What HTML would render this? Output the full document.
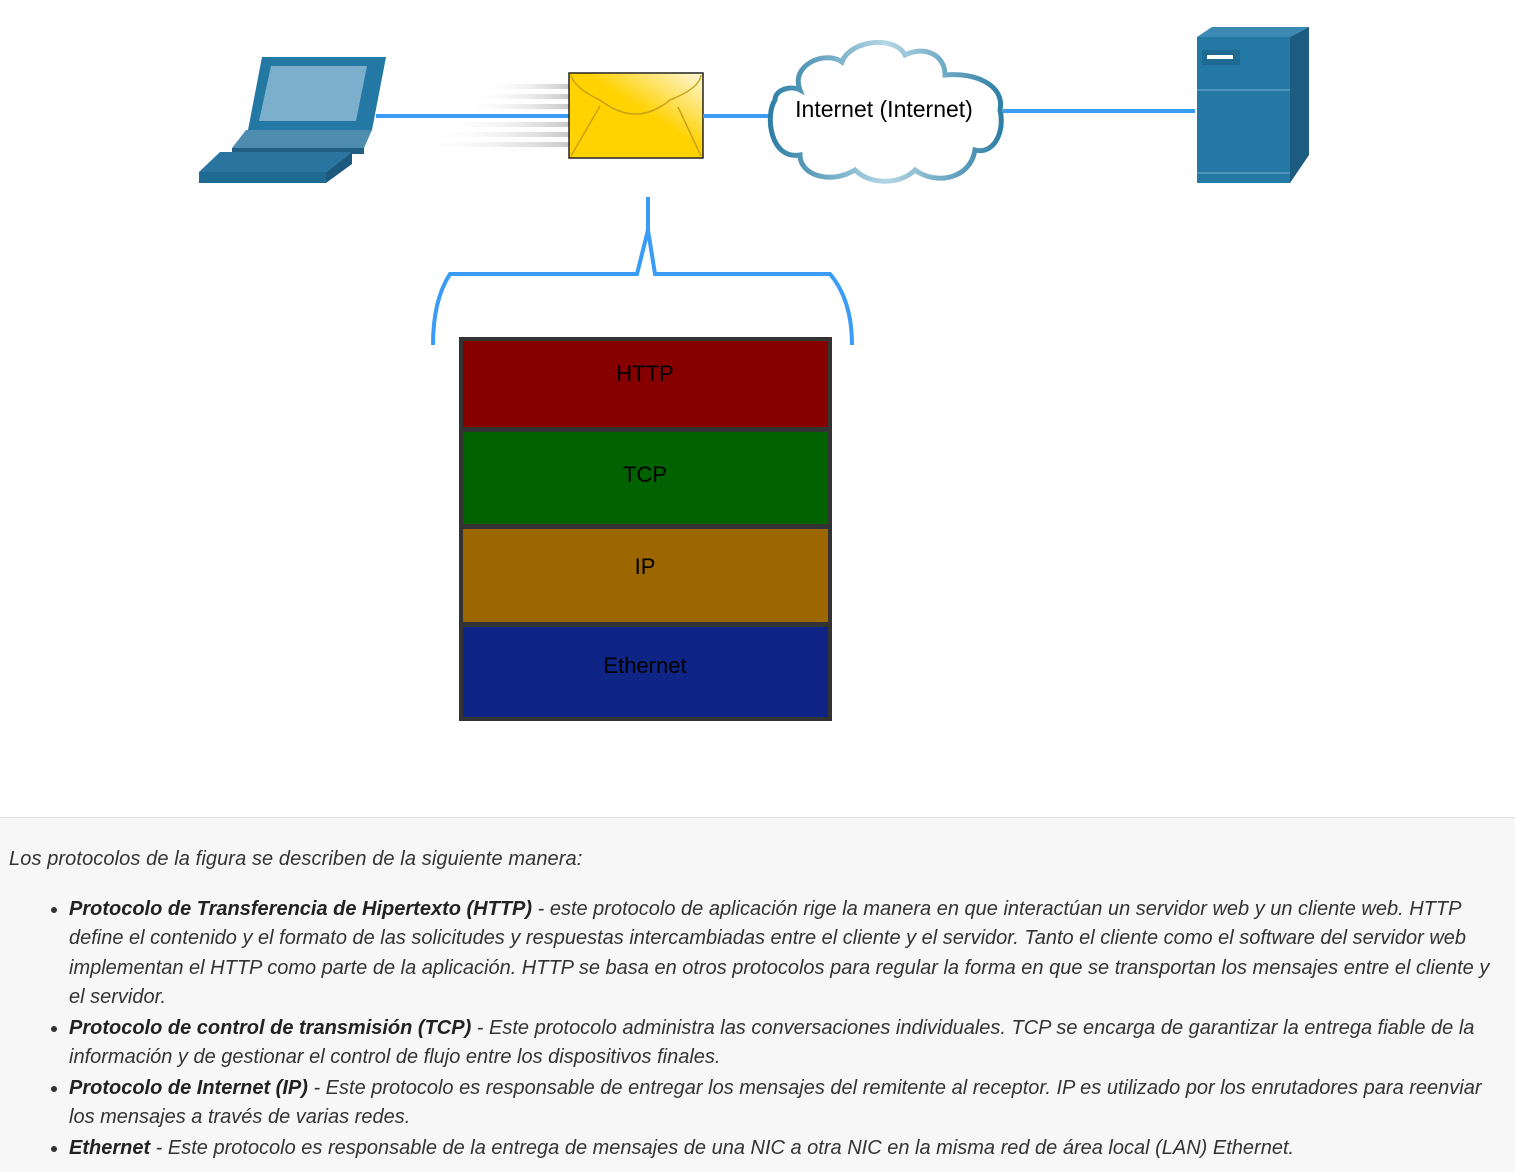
<!DOCTYPE html>
<html><head><meta charset="utf-8"><style>
body{margin:0;width:1515px;height:1171px;overflow:hidden;background:#fff;font-family:"Liberation Sans",sans-serif}
#txt{position:absolute;left:0;top:817px;width:1515px;height:354px;background:#f7f7f7;border-top:1px solid #e2e2e2;color:#333;font-style:italic;font-size:20px;line-height:29.3px}
#txt p{position:absolute;left:9px;top:27px;margin:0;letter-spacing:0.1px}
#txt ul{position:absolute;left:69px;top:77px;margin:0;padding:0;width:1435px}
#txt li{margin:0 0 1.5px 0;padding:0}
b{font-weight:bold;color:#222}
</style></head><body>
<svg width="1515" height="817" style="position:absolute;left:0;top:0">
<defs>
<linearGradient id="env" x1="0" y1="1" x2="1" y2="0"><stop offset="0.55" stop-color="#ffd200"/><stop offset="1" stop-color="#fff8dc"/></linearGradient>
<linearGradient id="sp" x1="0" x2="1"><stop offset="0" stop-color="#fff" stop-opacity="0"/><stop offset="1" stop-color="#c8c8c8"/></linearGradient>
<linearGradient id="cl" x1="0" x2="1"><stop offset="0" stop-color="#2e7fa6"/><stop offset="0.5" stop-color="#b5d6e4"/><stop offset="1" stop-color="#2e7fa6"/></linearGradient>
</defs>
<polygon points="262,57 386,57 372,130 248,130" fill="#2378a4"/>
<polygon points="271,66 367,66 356,121 259,121" fill="#7bafcb"/>
<polygon points="246,130 372,130 364,148 232,148" fill="#4f8db0"/>
<polygon points="232,148 364,148 364,154 232,154" fill="#215f82"/>
<polygon points="220,152 352,152 326,172 199,172" fill="#2a75a0"/>
<rect x="199" y="172" width="127" height="11" fill="#1f6a93"/>
<polygon points="326,172 352,152 352,164 326,183" fill="#1b5a7e"/>
<line x1="376" y1="116" x2="570" y2="116" stroke="#3a9cf5" stroke-width="4"/>
<g fill="url(#sp)"><rect x="480" y="84" width="90" height="5"/><rect x="466" y="94" width="104" height="5"/><rect x="456" y="104" width="114" height="5"/><rect x="440" y="122" width="130" height="5"/><rect x="428" y="132" width="142" height="5"/><rect x="412" y="142" width="158" height="5"/></g>
<rect x="569" y="73" width="134" height="85" fill="url(#env)" stroke="#222" stroke-width="1.5"/>
<path d="M571,75 Q574,88 600,100 Q636,128 670,100 Q700,88 701,75" fill="none" stroke="#c9a21a" stroke-width="1.5"/>
<path d="M571,156 L600,106 M701,156 L678,107" stroke="#c9a21a" stroke-width="1.5"/>
<line x1="703" y1="116" x2="770" y2="116" stroke="#3a9cf5" stroke-width="4"/>
<path d="M800,90 C790,65 825,50 842,62 C850,40 895,35 905,55 C925,45 945,55 945,75 C975,72 1005,85 1000,110 C1005,130 995,155 975,150 C970,180 935,185 915,170 C900,185 870,185 855,170 C830,185 800,175 800,155 C770,160 765,115 775,100 C775,90 790,85 800,90 Z" fill="#fff" stroke="url(#cl)" stroke-width="5"/>
<text x="884" y="117" font-size="23" text-anchor="middle" fill="#000">Internet (Internet)</text>
<line x1="1003" y1="111" x2="1195" y2="111" stroke="#3a9cf5" stroke-width="4"/>
<polygon points="1197,37 1212,27 1309,27 1290,37" fill="#3c8ab4"/>
<rect x="1197" y="37" width="93" height="146" fill="#2378a4"/>
<polygon points="1290,37 1309,27 1309,155 1290,183" fill="#1c5c80"/>
<rect x="1202" y="50" width="38" height="15" fill="#1e6a93"/>
<rect x="1207" y="55" width="26" height="4" fill="#fff"/>
<line x1="1197" y1="90" x2="1290" y2="90" stroke="#5c9ec4" stroke-width="1.5"/>
<line x1="1197" y1="173" x2="1290" y2="173" stroke="#5c9ec4" stroke-width="1.5"/>
<path d="M648,197 L648,230 L637,274 L450,274 Q433,300 433,345 M648,230 L655,274 L830,274 Q852,300 852,345" fill="none" stroke="#3a9cf5" stroke-width="4"/>
<rect x="459" y="337" width="373" height="384" fill="#333"/>
<rect x="463" y="341" width="365" height="86" fill="#860000"/>
<rect x="463" y="432" width="365" height="92" fill="#006300"/>
<rect x="463" y="529" width="365" height="93" fill="#9c6600"/>
<rect x="463" y="627" width="365" height="90" fill="#0f2586"/>
<g font-size="22" text-anchor="middle" fill="#000"><text x="645" y="381">HTTP</text><text x="645" y="482">TCP</text><text x="645" y="574">IP</text><text x="645" y="673">Ethernet</text></g>
</svg>
<div id="txt">
<p>Los protocolos de la figura se describen de la siguiente manera:</p>
<ul>
<li><b>Protocolo de Transferencia de Hipertexto (HTTP)</b> - este protocolo de aplicación rige la manera en que interactúan un servidor web y un cliente web. HTTP define el contenido y el formato de las solicitudes y respuestas intercambiadas entre el cliente y el servidor. Tanto el cliente como el software del servidor web implementan el HTTP como parte de la aplicación. HTTP se basa en otros protocolos para regular la forma en que se transportan los mensajes entre el cliente y el servidor.</li>
<li><b>Protocolo de control de transmisión (TCP)</b> - Este protocolo administra las conversaciones individuales. TCP se encarga de garantizar la entrega fiable de la información y de gestionar el control de flujo entre los dispositivos finales.</li>
<li><b>Protocolo de Internet (IP)</b> - Este protocolo es responsable de entregar los mensajes del remitente al receptor. IP es utilizado por los enrutadores para reenviar los mensajes a través de varias redes.</li>
<li><b>Ethernet</b> - Este protocolo es responsable de la entrega de mensajes de una NIC a otra NIC en la misma red de área local (LAN) Ethernet.</li>
</ul>
</div>
</body></html>
